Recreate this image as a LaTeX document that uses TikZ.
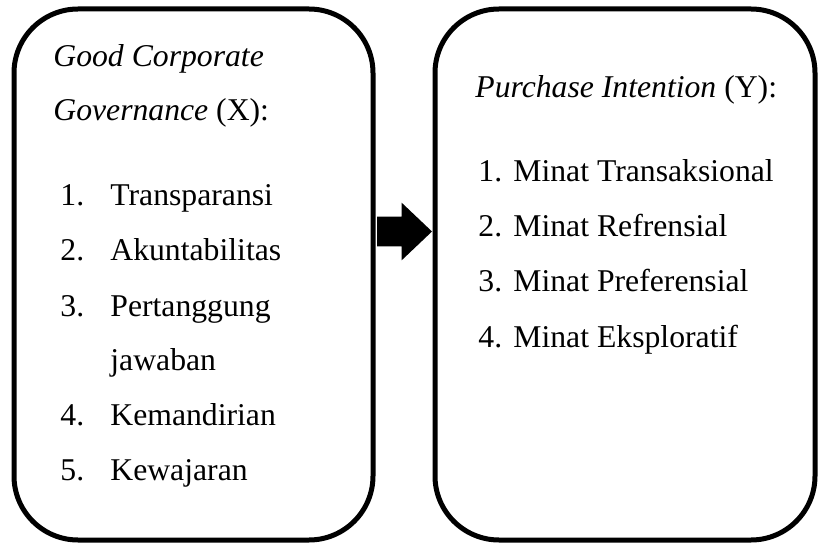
\documentclass[tikz,border=0pt]{standalone}
\usepackage{fontspec}
\setmainfont{Liberation Serif}
\usepackage{tikz}
\usetikzlibrary{positioning,shapes.arrows}
\newcommand{\nomor}[2]{\makebox[#1][l]{#2}}

\begin{document}
\begin{tikzpicture}[x=0.5pt, y=-0.5pt,
  kotak/.style={draw=black, line width=2.5pt, rounded corners=32pt,
                minimum height=265.5pt, inner sep=0pt},
  teks/.style={anchor=base west, inner sep=0pt,
               font=\fontsize{15.85pt}{19pt}\selectfont},
  panah/.style={single arrow, fill=black, draw=none, inner xsep=0pt,
                inner ysep=7.25pt, minimum height=27.5pt,
                single arrow head extend=7pt, single arrow tip angle=87,
                outer sep=0pt}]
  \useasboundingbox (0,0) rectangle (819,545);
  % dua kotak variabel
  \node[kotak, minimum width=179.5pt] (kiri) at (193.5,274.5) {};
  \node[kotak, minimum width=190pt] (kanan) at (625,274.5) {};
  \node[panah, anchor=tip] (panah) at (432,231.5) {};
  % variabel X
  \node[teks] (gcg1) at (53,67) {\textit{Good Corporate}};
  \node[teks] (gcg2) at (53,121) {\textit{Governance} (X):};
  \node[teks] (x1) at (60,206) {\nomor{25pt}{1.}Transparansi};
  \node[teks] (x2) at (60,261) {\nomor{25pt}{2.}Akuntabilitas};
  \node[teks] (x3) at (60,316) {\nomor{25pt}{3.}Pertanggung};
  \node[teks] (x3b) at (110,370) {jawaban};
  \node[teks] (x4) at (60,425) {\nomor{25pt}{4.}Kemandirian};
  \node[teks] (x5) at (60,480) {\nomor{25pt}{5.}Kewajaran};
  % variabel Y
  \node[teks] (pi) at (475,98) {\textit{Purchase Intention} (Y):};
  \node[teks] (y1) at (478,182) {\nomor{17.5pt}{1.}Minat Transaksional};
  \node[teks] (y2) at (478,237) {\nomor{17.5pt}{2.}Minat Refrensial};
  \node[teks] (y3) at (478,292) {\nomor{17.5pt}{3.}Minat Preferensial};
  \node[teks] (y4) at (478,347) {\nomor{17.5pt}{4.}Minat Eksploratif};
\end{tikzpicture}
\end{document}
